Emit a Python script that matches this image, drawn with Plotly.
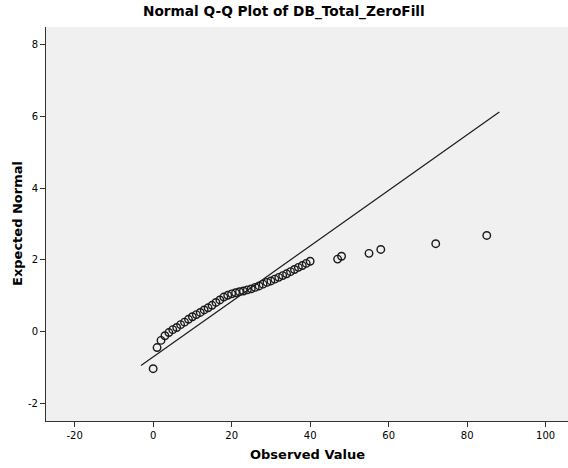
import plotly.graph_objects as go

observed = [0, 1, 2, 3, 4, 5, 6, 7, 8, 9, 10, 11, 12, 13, 14, 15, 16, 17, 18, 19,
            20, 21, 22, 23, 24, 25, 26, 27, 28, 29, 30, 31, 32, 33, 34, 35, 36, 37,
            38, 39, 40, 47, 48, 55, 58, 72, 85]
expected = [-1.04, -0.45, -0.25, -0.12, -0.03, 0.05, 0.11, 0.19, 0.26, 0.34, 0.41,
            0.47, 0.53, 0.60, 0.66, 0.73, 0.81, 0.88, 0.96, 1.01, 1.05, 1.08, 1.11,
            1.13, 1.16, 1.19, 1.23, 1.27, 1.32, 1.37, 1.41, 1.46, 1.51, 1.56, 1.61,
            1.67, 1.73, 1.79, 1.84, 1.90, 1.96, 2.02, 2.10, 2.18, 2.29, 2.45, 2.68]

# Reference line y = (x - mean) / sd
line_mean = 9.2
line_sd = 12.9
line_x = [-3.1, 88.2]
line_y = [(v - line_mean) / line_sd for v in line_x]

x_ticks = [-20, 0, 20, 40, 60, 80, 100]
y_ticks = [-2, 0, 2, 4, 6, 8]

FONT = "DejaVu Sans, Arial, sans-serif"

fig = go.Figure()
fig.add_trace(go.Scatter(x=line_x, y=line_y, mode="lines",
                         line=dict(color="#1a1a1a", width=1.2),
                         hoverinfo="skip", showlegend=False))
fig.add_trace(go.Scatter(x=observed, y=expected, mode="markers",
                         marker=dict(symbol="circle-open", size=7.5,
                                     color="#1a1a1a", line=dict(width=1.4)),
                         showlegend=False))

tick_font = dict(family=FONT, size=10, color="#000000")
fig.update_layout(
    width=568, height=468,
    margin=dict(l=46, r=0, t=27, b=47),
    paper_bgcolor="white",
    plot_bgcolor="#F0F0F0",
    xaxis=dict(range=[-27.3, 105.7], tickvals=x_ticks, ticktext=[str(t) for t in x_ticks],
               showgrid=False, zeroline=False, showline=True, linecolor="#333333",
               linewidth=1, ticks="outside", ticklen=5, tickcolor="#333333",
               tickfont=tick_font, automargin=False),
    yaxis=dict(range=[-2.5, 8.5], tickvals=y_ticks, ticktext=[str(t) for t in y_ticks],
               showgrid=False, zeroline=False, showline=True, linecolor="#333333",
               linewidth=1, ticks="outside", ticklen=5, tickcolor="#333333",
               tickfont=tick_font, automargin=False),
    annotations=[
        dict(text="<b>Normal Q-Q Plot of DB_Total_ZeroFill</b>", xref="paper", yref="paper",
             x=(284 - 46) / 522, y=1 + (27 - 12) / 394, xanchor="center", yanchor="middle",
             showarrow=False, font=dict(family=FONT, size=13.7, color="#000000")),
        dict(text="<b>Observed Value</b>", xref="paper", yref="paper",
             x=0.5, y=-(455 - 421) / 394, xanchor="center", yanchor="middle",
             showarrow=False, font=dict(family=FONT, size=13, color="#000000")),
        dict(text="<b>Expected Normal</b>", xref="paper", yref="paper",
             x=-(46 - 17) / 522, y=0.5, xanchor="center", yanchor="middle", textangle=-90,
             showarrow=False, font=dict(family=FONT, size=13, color="#000000")),
    ],
)

# remove the default page margin so the figure sits at the window's top-left corner
fig.write_html("out.html", config={"displayModeBar": False},
               post_script="document.body.style.margin='0px';")
